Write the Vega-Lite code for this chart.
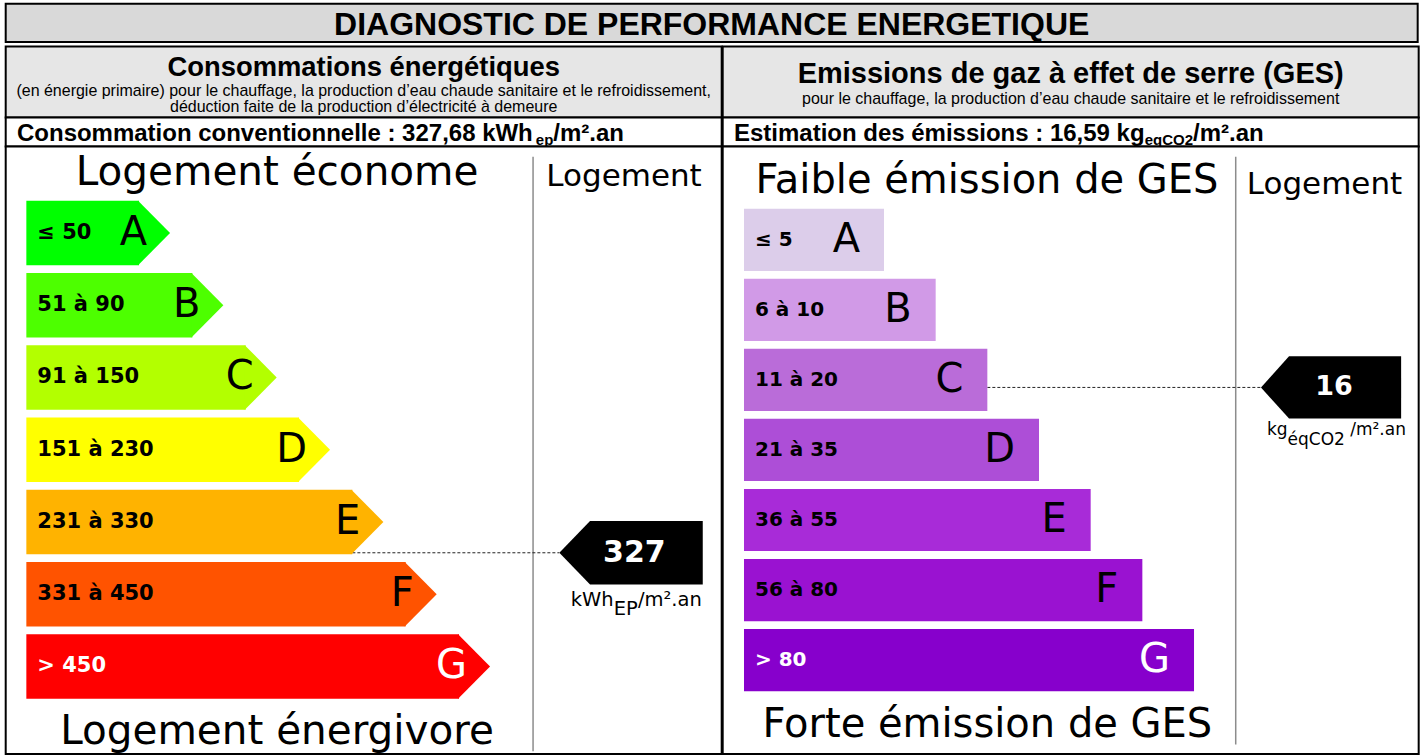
{
  "$schema": "https://vega.github.io/schema/vega-lite/v6.json",
  "padding": {"left": 4.7, "top": 2.7, "right": 2, "bottom": 0},
  "background": "white",
  "config": {
    "axis": {"disable": true},
    "legend": {"disable": true},
    "view": {"stroke": "black", "strokeWidth": 2}
  },
  "datasets": {
    "energie": [
      {"cls": "A", "range": "≤ 50", "lo": 0, "hi": 50, "rank": 1},
      {"cls": "B", "range": "51 à 90", "lo": 51, "hi": 90, "rank": 2},
      {"cls": "C", "range": "91 à 150", "lo": 91, "hi": 150, "rank": 3},
      {"cls": "D", "range": "151 à 230", "lo": 151, "hi": 230, "rank": 4},
      {"cls": "E", "range": "231 à 330", "lo": 231, "hi": 330, "rank": 5},
      {"cls": "F", "range": "331 à 450", "lo": 331, "hi": 450, "rank": 6},
      {"cls": "G", "range": "> 450", "lo": 451, "hi": 600, "rank": 7}
    ],
    "ges": [
      {"cls": "A", "range": "≤ 5", "lo": 0, "hi": 5, "rank": 1},
      {"cls": "B", "range": "6 à 10", "lo": 6, "hi": 10, "rank": 2},
      {"cls": "C", "range": "11 à 20", "lo": 11, "hi": 20, "rank": 3},
      {"cls": "D", "range": "21 à 35", "lo": 21, "hi": 35, "rank": 4},
      {"cls": "E", "range": "36 à 55", "lo": 36, "hi": 55, "rank": 5},
      {"cls": "F", "range": "56 à 80", "lo": 56, "hi": 80, "rank": 6},
      {"cls": "G", "range": "> 80", "lo": 81, "hi": 100, "rank": 7}
    ],
    "indE": [{"value": 327.68, "label": "327", "u1": "kWh", "u2": "EP", "u3": "/m².an"}],
    "indG": [{"value": 16.59, "label": "16", "u1": "kg", "u2": "éqCO2", "u3": "/m².an"}]
  },
  "spacing": 3.7,
  "bounds": "flush",
  "vconcat": [
    {
      "width": 1412, "height": 38.3,
      "view": {"fill": "#d9d9d9", "stroke": "black", "strokeWidth": 2},
      "data": {"values": [{"t": "DIAGNOSTIC DE PERFORMANCE ENERGETIQUE"}]},
      "mark": {"type": "text", "font": "Liberation Sans", "fontWeight": "bold", "fontSize": 32, "baseline": "alphabetic", "dy": 12.2, "color": "black"},
      "encoding": {"text": {"field": "t"}}
    },
    {
      "hconcat": [
        {
          "vconcat": [
            {
              "width": 716, "height": 71,
              "view": {"fill": "#e6e6e6", "stroke": "black", "strokeWidth": 2},
              "layer": [
                {"data": {"values": [{"t": "Consommations énergétiques"}]},
                 "mark": {"type": "text", "font": "Liberation Sans", "fontWeight": "bold", "fontSize": 27.4, "baseline": "alphabetic", "dy": -6.2, "color": "black"},
                 "encoding": {"text": {"field": "t"}}},
                {"data": {"values": [{"t": "(en énergie primaire) pour le chauffage, la production d’eau chaude sanitaire et le refroidissement,"}]},
                 "mark": {"type": "text", "font": "Liberation Sans", "fontSize": 16, "baseline": "alphabetic", "dy": 13.8, "color": "black"},
                 "encoding": {"text": {"field": "t"}}},
                {"data": {"values": [{"t": "déduction faite de la production d’électricité à demeure"}]},
                 "mark": {"type": "text", "font": "Liberation Sans", "fontSize": 16, "baseline": "alphabetic", "dy": 29.8, "color": "black"},
                 "encoding": {"text": {"field": "t"}}}
              ]
            },
            {
              "width": 716, "height": 29,
              "view": {"fill": "white", "stroke": "black", "strokeWidth": 2},
              "layer": [
                {"data": {"values": [{"t": "Consommation conventionnelle : 327,68 kWh"}]},
                 "mark": {"type": "text", "font": "Liberation Sans", "fontWeight": "bold", "fontSize": 24, "align": "left", "baseline": "alphabetic", "dx": -346.7, "dy": 8.8, "color": "black"},
                 "encoding": {"text": {"field": "t"}}},
                {"data": {"values": [{"t": "ep"}]},
                 "mark": {"type": "text", "font": "Liberation Sans", "fontWeight": "bold", "fontSize": 15, "align": "left", "baseline": "alphabetic", "dx": 172.1, "dy": 12.8, "color": "black"},
                 "encoding": {"text": {"field": "t"}}},
                {"data": {"values": [{"t": "/m².an"}]},
                 "mark": {"type": "text", "font": "Liberation Sans", "fontWeight": "bold", "fontSize": 24, "align": "left", "baseline": "alphabetic", "dx": 189.6, "dy": 8.8, "color": "black"},
                 "encoding": {"text": {"field": "t"}}}
              ]
            },
            {
              "width": 716, "height": 607.6,
              "view": {"fill": "white", "stroke": "black", "strokeWidth": 2},
              "layer": [
                {"data": {"values": [{"k": 1}]},
                 "mark": {"type": "rule", "color": "#8c8c8c", "strokeWidth": 1.5},
                 "encoding": {
                   "x": {"datum": 8.388, "type": "quantitative", "scale": {"domain": [-1.5, 11.925], "nice": false, "zero": false}},
                   "y": {"datum": -34, "type": "quantitative", "scale": {"domain": [0, 50, 51, 90, 91, 150, 151, 230, 231, 330, 331, 450, 451, 600], "range": [54.3, 118.9, 126.55, 191.15, 198.8, 263.4, 271.05, 335.65, 343.3, 407.9, 415.55, 480.15, 487.8, 552.4], "nice": false, "zero": false}},
                   "y2": {"datum": 721}
                 }},
                {"data": {"name": "indE"},
                 "mark": {"type": "rule", "color": "#222222", "strokeWidth": 1, "strokeDash": [3, 2]},
                 "encoding": {
                   "x": {"datum": 5, "type": "quantitative", "scale": {"domain": [-1.5, 11.925], "nice": false, "zero": false}},
                   "x2": {"datum": 8.881},
                   "y": {"field": "value", "type": "quantitative", "scale": {"domain": [0, 50, 51, 90, 91, 150, 151, 230, 231, 330, 331, 450, 451, 600], "range": [54.3, 118.9, 126.55, 191.15, 198.8, 263.4, 271.05, 335.65, 343.3, 407.9, 415.55, 480.15, 487.8, 552.4], "nice": false, "zero": false}}
                 }},
                {"data": {"name": "energie"},
                 "mark": {"type": "rect"},
                 "encoding": {
                   "x": {"field": "rank", "type": "quantitative", "scale": {"domain": [-1.5, 11.925], "nice": false, "zero": false}},
                   "x2": {"datum": -1.113},
                   "y": {"field": "lo", "type": "quantitative", "scale": {"domain": [0, 50, 51, 90, 91, 150, 151, 230, 231, 330, 331, 450, 451, 600], "range": [54.3, 118.9, 126.55, 191.15, 198.8, 263.4, 271.05, 335.65, 343.3, 407.9, 415.55, 480.15, 487.8, 552.4], "nice": false, "zero": false}},
                   "y2": {"field": "hi"},
                   "color": {"field": "cls", "type": "nominal", "scale": {"domain": ["A", "B", "C", "D", "E", "F", "G"], "range": ["#00ff00", "#4dff00", "#b3ff00", "#ffff00", "#ffb300", "#ff5300", "#ff0000"]}, "legend": null}
                 }},
                {"data": {"name": "energie"},
                 "mark": {"type": "point", "shape": "M-0.03,0L0.96,1L-0.03,2Z", "size": 4173, "filled": true, "opacity": 1, "strokeWidth": 0},
                 "encoding": {
                   "x": {"field": "rank", "type": "quantitative", "scale": {"domain": [-1.5, 11.925], "nice": false, "zero": false}},
                   "y": {"field": "lo", "type": "quantitative", "scale": {"domain": [0, 50, 51, 90, 91, 150, 151, 230, 231, 330, 331, 450, 451, 600], "range": [54.3, 118.9, 126.55, 191.15, 198.8, 263.4, 271.05, 335.65, 343.3, 407.9, 415.55, 480.15, 487.8, 552.4], "nice": false, "zero": false}},
                   "color": {"field": "cls", "type": "nominal", "scale": {"domain": ["A", "B", "C", "D", "E", "F", "G"], "range": ["#00ff00", "#4dff00", "#b3ff00", "#ffff00", "#ffb300", "#ff5300", "#ff0000"]}, "legend": null}
                 }},
                {"data": {"name": "energie"},
                 "mark": {"type": "text", "font": "DejaVu Sans", "fontWeight": "bold", "fontSize": 21, "align": "left", "baseline": "middle", "dx": 11, "dy": 32.3},
                 "encoding": {
                   "x": {"datum": -1.113, "type": "quantitative", "scale": {"domain": [-1.5, 11.925], "nice": false, "zero": false}},
                   "y": {"field": "lo", "type": "quantitative", "scale": {"domain": [0, 50, 51, 90, 91, 150, 151, 230, 231, 330, 331, 450, 451, 600], "range": [54.3, 118.9, 126.55, 191.15, 198.8, 263.4, 271.05, 335.65, 343.3, 407.9, 415.55, 480.15, 487.8, 552.4], "nice": false, "zero": false}},
                   "text": {"field": "range"},
                   "color": {"condition": {"test": "datum.cls === 'G'", "value": "white"}, "value": "black"}
                 }},
                {"data": {"name": "energie"},
                 "mark": {"type": "text", "font": "DejaVu Sans", "fontSize": 40, "align": "right", "baseline": "middle", "dx": 8, "dy": 32.3},
                 "encoding": {
                   "x": {"field": "rank", "type": "quantitative", "scale": {"domain": [-1.5, 11.925], "nice": false, "zero": false}},
                   "y": {"field": "lo", "type": "quantitative", "scale": {"domain": [0, 50, 51, 90, 91, 150, 151, 230, 231, 330, 331, 450, 451, 600], "range": [54.3, 118.9, 126.55, 191.15, 198.8, 263.4, 271.05, 335.65, 343.3, 407.9, 415.55, 480.15, 487.8, 552.4], "nice": false, "zero": false}},
                   "text": {"field": "cls"},
                   "color": {"condition": {"test": "datum.cls === 'G'", "value": "white"}, "value": "black"}
                 }},
                {"data": {"name": "indE"},
                 "mark": {"type": "point", "shape": "M0,0L0.965,-1L4.51,-1L4.51,1L0.965,1Z", "size": 4045, "filled": true, "opacity": 1, "strokeWidth": 0, "color": "black"},
                 "encoding": {
                   "x": {"datum": 8.881, "type": "quantitative", "scale": {"domain": [-1.5, 11.925], "nice": false, "zero": false}},
                   "y": {"field": "value", "type": "quantitative", "scale": {"domain": [0, 50, 51, 90, 91, 150, 151, 230, 231, 330, 331, 450, 451, 600], "range": [54.3, 118.9, 126.55, 191.15, 198.8, 263.4, 271.05, 335.65, 343.3, 407.9, 415.55, 480.15, 487.8, 552.4], "nice": false, "zero": false}}
                 }},
                {"data": {"name": "indE"},
                 "mark": {"type": "text", "font": "DejaVu Sans", "fontWeight": "bold", "fontSize": 30, "align": "center", "baseline": "middle", "color": "white"},
                 "encoding": {
                   "x": {"datum": 10.287, "type": "quantitative", "scale": {"domain": [-1.5, 11.925], "nice": false, "zero": false}},
                   "y": {"field": "value", "type": "quantitative", "scale": {"domain": [0, 50, 51, 90, 91, 150, 151, 230, 231, 330, 331, 450, 451, 600], "range": [54.3, 118.9, 126.55, 191.15, 198.8, 263.4, 271.05, 335.65, 343.3, 407.9, 415.55, 480.15, 487.8, 552.4], "nice": false, "zero": false}},
                   "text": {"field": "label"}
                 }},
                {"data": {"name": "indE"},
                 "mark": {"type": "text", "font": "DejaVu Sans", "fontSize": 19.5, "align": "left", "baseline": "alphabetic", "dy": 53, "color": "black"},
                 "encoding": {
                   "x": {"datum": 9.095, "type": "quantitative", "scale": {"domain": [-1.5, 11.925], "nice": false, "zero": false}},
                   "y": {"field": "value", "type": "quantitative", "scale": {"domain": [0, 50, 51, 90, 91, 150, 151, 230, 231, 330, 331, 450, 451, 600], "range": [54.3, 118.9, 126.55, 191.15, 198.8, 263.4, 271.05, 335.65, 343.3, 407.9, 415.55, 480.15, 487.8, 552.4], "nice": false, "zero": false}},
                   "text": {"field": "u1"}
                 }},
                {"data": {"name": "indE"},
                 "mark": {"type": "text", "font": "DejaVu Sans", "fontSize": 19.5, "align": "left", "baseline": "alphabetic", "dx": 42.9, "dy": 62, "color": "black"},
                 "encoding": {
                   "x": {"datum": 9.095, "type": "quantitative", "scale": {"domain": [-1.5, 11.925], "nice": false, "zero": false}},
                   "y": {"field": "value", "type": "quantitative", "scale": {"domain": [0, 50, 51, 90, 91, 150, 151, 230, 231, 330, 331, 450, 451, 600], "range": [54.3, 118.9, 126.55, 191.15, 198.8, 263.4, 271.05, 335.65, 343.3, 407.9, 415.55, 480.15, 487.8, 552.4], "nice": false, "zero": false}},
                   "text": {"field": "u2"}
                 }},
                {"data": {"name": "indE"},
                 "mark": {"type": "text", "font": "DejaVu Sans", "fontSize": 19.5, "align": "left", "baseline": "alphabetic", "dx": 67.2, "dy": 53, "color": "black"},
                 "encoding": {
                   "x": {"datum": 9.095, "type": "quantitative", "scale": {"domain": [-1.5, 11.925], "nice": false, "zero": false}},
                   "y": {"field": "value", "type": "quantitative", "scale": {"domain": [0, 50, 51, 90, 91, 150, 151, 230, 231, 330, 331, 450, 451, 600], "range": [54.3, 118.9, 126.55, 191.15, 198.8, 263.4, 271.05, 335.65, 343.3, 407.9, 415.55, 480.15, 487.8, 552.4], "nice": false, "zero": false}},
                   "text": {"field": "u3"}
                 }},
                {"data": {"values": [{"t": "Logement économe"}]},
                 "mark": {"type": "text", "font": "DejaVu Sans", "fontSize": 40.5, "align": "center", "baseline": "alphabetic", "dy": -16, "color": "black"},
                 "encoding": {
                   "x": {"datum": 3.588, "type": "quantitative", "scale": {"domain": [-1.5, 11.925], "nice": false, "zero": false}},
                   "y": {"datum": 0, "type": "quantitative", "scale": {"domain": [0, 50, 51, 90, 91, 150, 151, 230, 231, 330, 331, 450, 451, 600], "range": [54.3, 118.9, 126.55, 191.15, 198.8, 263.4, 271.05, 335.65, 343.3, 407.9, 415.55, 480.15, 487.8, 552.4], "nice": false, "zero": false}},
                   "text": {"field": "t"}
                 }},
                {"data": {"values": [{"t": "Logement énergivore"}]},
                 "mark": {"type": "text", "font": "DejaVu Sans", "fontSize": 40.5, "align": "center", "baseline": "alphabetic", "dy": 45, "color": "black"},
                 "encoding": {
                   "x": {"datum": 3.588, "type": "quantitative", "scale": {"domain": [-1.5, 11.925], "nice": false, "zero": false}},
                   "y": {"datum": 600, "type": "quantitative", "scale": {"domain": [0, 50, 51, 90, 91, 150, 151, 230, 231, 330, 331, 450, 451, 600], "range": [54.3, 118.9, 126.55, 191.15, 198.8, 263.4, 271.05, 335.65, 343.3, 407.9, 415.55, 480.15, 487.8, 552.4], "nice": false, "zero": false}},
                   "text": {"field": "t"}
                 }},
                {"data": {"values": [{"t": "Logement"}]},
                 "mark": {"type": "text", "font": "DejaVu Sans", "fontSize": 31, "align": "center", "baseline": "alphabetic", "dy": -15, "color": "black"},
                 "encoding": {
                   "x": {"datum": 10.094, "type": "quantitative", "scale": {"domain": [-1.5, 11.925], "nice": false, "zero": false}},
                   "y": {"datum": 0, "type": "quantitative", "scale": {"domain": [0, 50, 51, 90, 91, 150, 151, 230, 231, 330, 331, 450, 451, 600], "range": [54.3, 118.9, 126.55, 191.15, 198.8, 263.4, 271.05, 335.65, 343.3, 407.9, 415.55, 480.15, 487.8, 552.4], "nice": false, "zero": false}},
                   "text": {"field": "t"}
                 }}
              ]
            }
          ],
          "spacing": 0,
          "bounds": "flush"
        },
        {
          "vconcat": [
            {
              "width": 696, "height": 71,
              "view": {"fill": "#e6e6e6", "stroke": "black", "strokeWidth": 2},
              "layer": [
                {"data": {"values": [{"t": "Emissions de gaz à effet de serre (GES)"}]},
                 "mark": {"type": "text", "font": "Liberation Sans", "fontWeight": "bold", "fontSize": 29, "baseline": "alphabetic", "dy": 0.8, "color": "black"},
                 "encoding": {"text": {"field": "t"}}},
                {"data": {"values": [{"t": "pour le chauffage, la production d’eau chaude sanitaire et le refroidissement"}]},
                 "mark": {"type": "text", "font": "Liberation Sans", "fontSize": 16, "baseline": "alphabetic", "dy": 21.8, "color": "black"},
                 "encoding": {"text": {"field": "t"}}}
              ]
            },
            {
              "width": 696, "height": 29,
              "view": {"fill": "white", "stroke": "black", "strokeWidth": 2},
              "layer": [
                {"data": {"values": [{"t": "Estimation des émissions : 16,59 kg"}]},
                 "mark": {"type": "text", "font": "Liberation Sans", "fontWeight": "bold", "fontSize": 24, "align": "left", "baseline": "alphabetic", "dx": -336.7, "dy": 8.8, "color": "black"},
                 "encoding": {"text": {"field": "t"}}},
                {"data": {"values": [{"t": "eqCO2"}]},
                 "mark": {"type": "text", "font": "Liberation Sans", "fontWeight": "bold", "fontSize": 15, "align": "left", "baseline": "alphabetic", "dx": 74.1, "dy": 12.8, "color": "black"},
                 "encoding": {"text": {"field": "t"}}},
                {"data": {"values": [{"t": "/m².an"}]},
                 "mark": {"type": "text", "font": "Liberation Sans", "fontWeight": "bold", "fontSize": 24, "align": "left", "baseline": "alphabetic", "dx": 122.4, "dy": 8.8, "color": "black"},
                 "encoding": {"text": {"field": "t"}}}
              ]
            },
            {
              "width": 696, "height": 607.6,
              "view": {"fill": "white", "stroke": "black", "strokeWidth": 2},
              "layer": [
                {"data": {"values": [{"k": 1}]},
                 "mark": {"type": "rule", "color": "#8c8c8c", "strokeWidth": 1.5},
                 "encoding": {
                   "x": {"datum": 7.807, "type": "quantitative", "scale": {"domain": [-2.1218, 11.348], "nice": false, "zero": false}},
                   "y": {"datum": -4.18, "type": "quantitative", "scale": {"domain": [0, 5, 6, 10, 11, 20, 21, 35, 36, 55, 56, 80, 81, 100], "range": [62.3, 124.5, 132.35, 194.55, 202.4, 264.6, 272.45, 334.65, 342.5, 404.7, 412.55, 474.75, 482.6, 544.8], "nice": false, "zero": false}},
                   "y2": {"datum": 116.3}
                 }},
                {"data": {"name": "indG"},
                 "mark": {"type": "rule", "color": "#222222", "strokeWidth": 1, "strokeDash": [3, 2]},
                 "encoding": {
                   "x": {"datum": 3, "type": "quantitative", "scale": {"domain": [-2.1218, 11.348], "nice": false, "zero": false}},
                   "x2": {"datum": 8.296},
                   "y": {"field": "value", "type": "quantitative", "scale": {"domain": [0, 5, 6, 10, 11, 20, 21, 35, 36, 55, 56, 80, 81, 100], "range": [62.3, 124.5, 132.35, 194.55, 202.4, 264.6, 272.45, 334.65, 342.5, 404.7, 412.55, 474.75, 482.6, 544.8], "nice": false, "zero": false}}
                 }},
                {"data": {"name": "ges"},
                 "mark": {"type": "rect"},
                 "encoding": {
                   "x": {"field": "rank", "type": "quantitative", "scale": {"domain": [-2.1218, 11.348], "nice": false, "zero": false}},
                   "x2": {"datum": -1.7095},
                   "y": {"field": "lo", "type": "quantitative", "scale": {"domain": [0, 5, 6, 10, 11, 20, 21, 35, 36, 55, 56, 80, 81, 100], "range": [62.3, 124.5, 132.35, 194.55, 202.4, 264.6, 272.45, 334.65, 342.5, 404.7, 412.55, 474.75, 482.6, 544.8], "nice": false, "zero": false}},
                   "y2": {"field": "hi"},
                   "color": {"field": "cls", "type": "nominal", "scale": {"domain": ["A", "B", "C", "D", "E", "F", "G"], "range": ["#dccdea", "#d19ae7", "#ba6cd9", "#ad4ed7", "#a82bd8", "#9a12d1", "#8700cc"]}, "legend": null}
                 }},
                {"data": {"name": "ges"},
                 "mark": {"type": "text", "font": "DejaVu Sans", "fontWeight": "bold", "fontSize": 20, "align": "left", "baseline": "middle", "dx": 11, "dy": 31.1},
                 "encoding": {
                   "x": {"datum": -1.7095, "type": "quantitative", "scale": {"domain": [-2.1218, 11.348], "nice": false, "zero": false}},
                   "y": {"field": "lo", "type": "quantitative", "scale": {"domain": [0, 5, 6, 10, 11, 20, 21, 35, 36, 55, 56, 80, 81, 100], "range": [62.3, 124.5, 132.35, 194.55, 202.4, 264.6, 272.45, 334.65, 342.5, 404.7, 412.55, 474.75, 482.6, 544.8], "nice": false, "zero": false}},
                   "text": {"field": "range"},
                   "color": {"condition": {"test": "datum.cls === 'G'", "value": "white"}, "value": "black"}
                 }},
                {"data": {"name": "ges"},
                 "mark": {"type": "text", "font": "DejaVu Sans", "fontSize": 40, "align": "right", "baseline": "middle", "dx": -24, "dy": 31.1},
                 "encoding": {
                   "x": {"field": "rank", "type": "quantitative", "scale": {"domain": [-2.1218, 11.348], "nice": false, "zero": false}},
                   "y": {"field": "lo", "type": "quantitative", "scale": {"domain": [0, 5, 6, 10, 11, 20, 21, 35, 36, 55, 56, 80, 81, 100], "range": [62.3, 124.5, 132.35, 194.55, 202.4, 264.6, 272.45, 334.65, 342.5, 404.7, 412.55, 474.75, 482.6, 544.8], "nice": false, "zero": false}},
                   "text": {"field": "cls"},
                   "color": {"condition": {"test": "datum.cls === 'G'", "value": "white"}, "value": "black"}
                 }},
                {"data": {"name": "indG"},
                 "mark": {"type": "point", "shape": "M0,0L0.9,-1L4.5,-1L4.5,1L0.9,1Z", "size": 3881, "filled": true, "opacity": 1, "strokeWidth": 0, "color": "black"},
                 "encoding": {
                   "x": {"datum": 8.296, "type": "quantitative", "scale": {"domain": [-2.1218, 11.348], "nice": false, "zero": false}},
                   "y": {"field": "value", "type": "quantitative", "scale": {"domain": [0, 5, 6, 10, 11, 20, 21, 35, 36, 55, 56, 80, 81, 100], "range": [62.3, 124.5, 132.35, 194.55, 202.4, 264.6, 272.45, 334.65, 342.5, 404.7, 412.55, 474.75, 482.6, 544.8], "nice": false, "zero": false}}
                 }},
                {"data": {"name": "indG"},
                 "mark": {"type": "text", "font": "DejaVu Sans", "fontWeight": "bold", "fontSize": 27, "align": "center", "baseline": "middle", "color": "white"},
                 "encoding": {
                   "x": {"datum": 9.709, "type": "quantitative", "scale": {"domain": [-2.1218, 11.348], "nice": false, "zero": false}},
                   "y": {"field": "value", "type": "quantitative", "scale": {"domain": [0, 5, 6, 10, 11, 20, 21, 35, 36, 55, 56, 80, 81, 100], "range": [62.3, 124.5, 132.35, 194.55, 202.4, 264.6, 272.45, 334.65, 342.5, 404.7, 412.55, 474.75, 482.6, 544.8], "nice": false, "zero": false}},
                   "text": {"field": "label"}
                 }},
                {"data": {"name": "indG"},
                 "mark": {"type": "text", "font": "DejaVu Sans", "fontSize": 17, "align": "left", "baseline": "alphabetic", "dy": 48, "color": "black"},
                 "encoding": {
                   "x": {"datum": 8.412, "type": "quantitative", "scale": {"domain": [-2.1218, 11.348], "nice": false, "zero": false}},
                   "y": {"field": "value", "type": "quantitative", "scale": {"domain": [0, 5, 6, 10, 11, 20, 21, 35, 36, 55, 56, 80, 81, 100], "range": [62.3, 124.5, 132.35, 194.55, 202.4, 264.6, 272.45, 334.65, 342.5, 404.7, 412.55, 474.75, 482.6, 544.8], "nice": false, "zero": false}},
                   "text": {"field": "u1"}
                 }},
                {"data": {"name": "indG"},
                 "mark": {"type": "text", "font": "DejaVu Sans", "fontSize": 17, "align": "left", "baseline": "alphabetic", "dx": 20.6, "dy": 58, "color": "black"},
                 "encoding": {
                   "x": {"datum": 8.412, "type": "quantitative", "scale": {"domain": [-2.1218, 11.348], "nice": false, "zero": false}},
                   "y": {"field": "value", "type": "quantitative", "scale": {"domain": [0, 5, 6, 10, 11, 20, 21, 35, 36, 55, 56, 80, 81, 100], "range": [62.3, 124.5, 132.35, 194.55, 202.4, 264.6, 272.45, 334.65, 342.5, 404.7, 412.55, 474.75, 482.6, 544.8], "nice": false, "zero": false}},
                   "text": {"field": "u2"}
                 }},
                {"data": {"name": "indG"},
                 "mark": {"type": "text", "font": "DejaVu Sans", "fontSize": 17, "align": "left", "baseline": "alphabetic", "dx": 83.3, "dy": 48, "color": "black"},
                 "encoding": {
                   "x": {"datum": 8.412, "type": "quantitative", "scale": {"domain": [-2.1218, 11.348], "nice": false, "zero": false}},
                   "y": {"field": "value", "type": "quantitative", "scale": {"domain": [0, 5, 6, 10, 11, 20, 21, 35, 36, 55, 56, 80, 81, 100], "range": [62.3, 124.5, 132.35, 194.55, 202.4, 264.6, 272.45, 334.65, 342.5, 404.7, 412.55, 474.75, 482.6, 544.8], "nice": false, "zero": false}},
                   "text": {"field": "u3"}
                 }},
                {"data": {"values": [{"t": "Faible émission de GES"}]},
                 "mark": {"type": "text", "font": "DejaVu Sans", "fontSize": 40, "align": "center", "baseline": "alphabetic", "dy": -16, "color": "black"},
                 "encoding": {
                   "x": {"datum": 2.993, "type": "quantitative", "scale": {"domain": [-2.1218, 11.348], "nice": false, "zero": false}},
                   "y": {"datum": 0, "type": "quantitative", "scale": {"domain": [0, 5, 6, 10, 11, 20, 21, 35, 36, 55, 56, 80, 81, 100], "range": [62.3, 124.5, 132.35, 194.55, 202.4, 264.6, 272.45, 334.65, 342.5, 404.7, 412.55, 474.75, 482.6, 544.8], "nice": false, "zero": false}},
                   "text": {"field": "t"}
                 }},
                {"data": {"values": [{"t": "Forte émission de GES"}]},
                 "mark": {"type": "text", "font": "DejaVu Sans", "fontSize": 40, "align": "center", "baseline": "alphabetic", "dy": 46, "color": "black"},
                 "encoding": {
                   "x": {"datum": 3.0, "type": "quantitative", "scale": {"domain": [-2.1218, 11.348], "nice": false, "zero": false}},
                   "y": {"datum": 100, "type": "quantitative", "scale": {"domain": [0, 5, 6, 10, 11, 20, 21, 35, 36, 55, 56, 80, 81, 100], "range": [62.3, 124.5, 132.35, 194.55, 202.4, 264.6, 272.45, 334.65, 342.5, 404.7, 412.55, 474.75, 482.6, 544.8], "nice": false, "zero": false}},
                   "text": {"field": "t"}
                 }},
                {"data": {"values": [{"t": "Logement"}]},
                 "mark": {"type": "text", "font": "DejaVu Sans", "fontSize": 31, "align": "center", "baseline": "alphabetic", "dy": -15, "color": "black"},
                 "encoding": {
                   "x": {"datum": 9.525, "type": "quantitative", "scale": {"domain": [-2.1218, 11.348], "nice": false, "zero": false}},
                   "y": {"datum": 0, "type": "quantitative", "scale": {"domain": [0, 5, 6, 10, 11, 20, 21, 35, 36, 55, 56, 80, 81, 100], "range": [62.3, 124.5, 132.35, 194.55, 202.4, 264.6, 272.45, 334.65, 342.5, 404.7, 412.55, 474.75, 482.6, 544.8], "nice": false, "zero": false}},
                   "text": {"field": "t"}
                 }}
              ]
            }
          ],
          "spacing": 0,
          "bounds": "flush"
        }
      ],
      "spacing": -2,
      "resolve": {"scale": {"color": "independent", "x": "independent", "y": "independent"}}
    }
  ]
}
